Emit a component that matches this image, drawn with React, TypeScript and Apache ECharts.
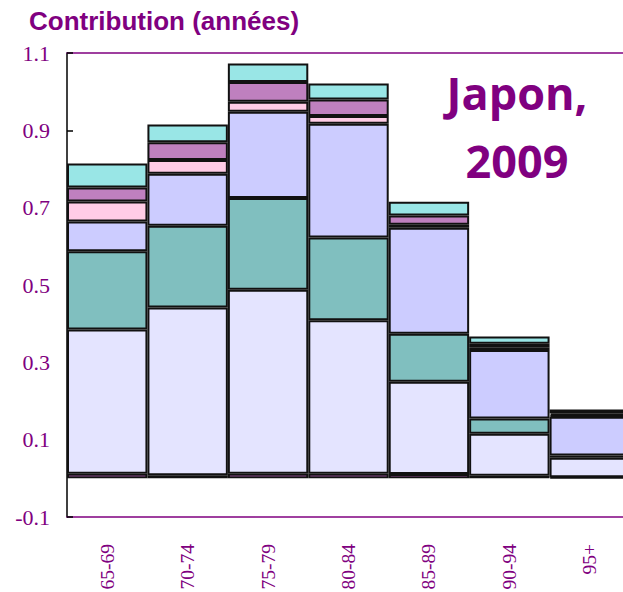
import React, { useEffect, useRef } from "react";
import * as echarts from "echarts";

const categories = ["65-69", "70-74", "75-79", "80-84", "85-89", "90-94", "95+"];
const yTicks = { min: -0.1, max: 1.1, interval: 0.2 };

const s1 = [0.012, 0.008, 0.012, 0.012, 0.011, 0.007, 0.003];
const s2 = [0.373, 0.434, 0.476, 0.397, 0.239, 0.108, 0.05];
const s3 = [0.202, 0.211, 0.237, 0.214, 0.124, 0.04, 0.006];
const s4 = [0.077, 0.135, 0.223, 0.294, 0.274, 0.177, 0.1];
const s5 = [0.052, 0.035, 0.026, 0.02, 0.008, 0.007, 0.004];
const s6 = [0.036, 0.046, 0.051, 0.043, 0.024, 0.009, 0.005];
const s7 = [0.062, 0.046, 0.048, 0.041, 0.035, 0.019, 0.01];

const seriesData = [s1, s2, s3, s4, s5, s6, s7];
const seriesNames = ["Série 1", "Série 2", "Série 3", "Série 4", "Série 5", "Série 6", "Série 7"];
const seriesColors = ["#FF80FF", "#E4E4FF", "#80BFBF", "#CCCCFF", "#FFCCE6", "#BF80BF", "#99E6E6"];

const PURPLE = "#800080";

export default function App() {
  const ref = useRef<HTMLDivElement>(null);
  useEffect(() => {
    if (!ref.current) return;
    const chart = echarts.init(ref.current, null, { renderer: "svg" });
    chart.setOption({
      animation: false,
      title: {
        text: "Contribution (années)",
        left: 24,
        top: 3,
        textStyle: {
          fontFamily: '"Liberation Sans", Arial, sans-serif',
          fontWeight: "bold",
          fontSize: 26,
          color: PURPLE,
        },
      },
      graphic: [
        {
          type: "text",
          x: 517,
          y: 92,
          style: {
            text: "Japon,",
            font: 'bold 45px "Open Sans"',
            fill: PURPLE,
            align: "center",
            verticalAlign: "middle",
          },
        },
        {
          type: "text",
          x: 517,
          y: 160,
          style: {
            text: "2009",
            font: 'bold 45px "Open Sans"',
            fill: PURPLE,
            align: "center",
            verticalAlign: "middle",
          },
        },
      ],
      grid: {
        left: 67,
        top: 53,
        width: 563,
        height: 464,
        containLabel: false,
        outerBoundsMode: "none",
      },
      xAxis: [
        {
          type: "category",
          data: categories,
          axisLine: { onZero: false, lineStyle: { color: PURPLE, width: 1.5 } },
          axisTick: { show: false },
          axisLabel: {
            rotate: 90,
            margin: 27,
            color: PURPLE,
            fontFamily: '"Liberation Serif", "Times New Roman", serif',
            fontSize: 19.5,
          },
        },
        {
          type: "category",
          data: categories,
          position: "top",
          axisLine: { onZero: false, lineStyle: { color: PURPLE, width: 1.5 } },
          axisTick: { show: false },
          axisLabel: { show: false },
        },
      ],
      yAxis: {
        type: "value",
        min: yTicks.min,
        max: yTicks.max,
        interval: yTicks.interval,
        axisLine: { show: true, lineStyle: { color: "#000", width: 1.5 } },
        axisTick: { show: true, inside: true, length: 6, lineStyle: { color: "#000", width: 1.5 } },
        splitLine: { show: false },
        axisLabel: {
          margin: 17,
          color: PURPLE,
          fontFamily: '"Liberation Serif", "Times New Roman", serif',
          fontSize: 22,
          formatter: (v: number) => Number(v).toFixed(1),
        },
      },
      series: seriesData.map((d, i) => ({
        type: "bar",
        name: seriesNames[i],
        stack: "total",
        data: d,
        barCategoryGap: "0%",
        itemStyle: { color: seriesColors[i], borderColor: "#111", borderWidth: 2 },
      })),
    });
    return () => chart.dispose();
  }, []);
  return <div ref={ref} style={{ width: 623, height: 592, position: "absolute", left: 0, top: 0 }} />;
}
